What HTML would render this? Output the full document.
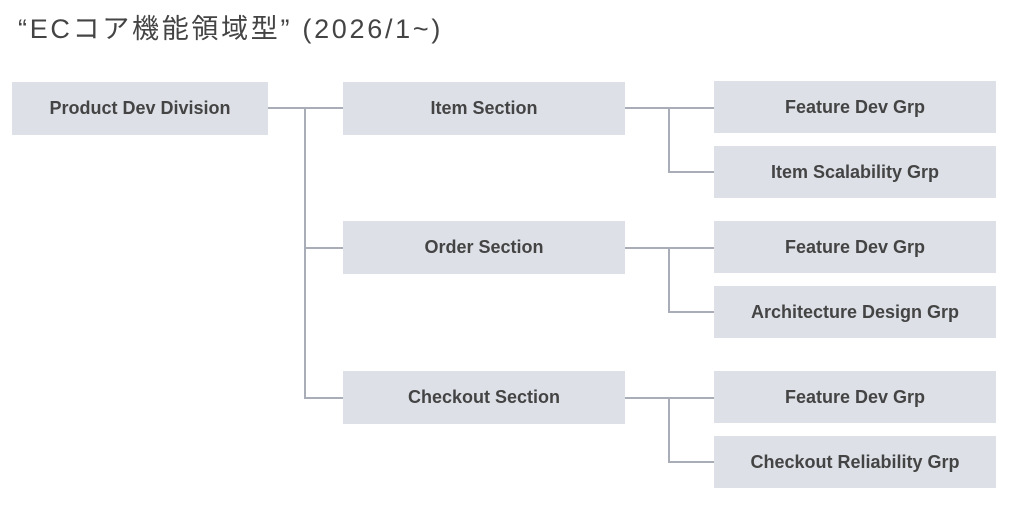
<!DOCTYPE html>
<html><head><meta charset="utf-8"><style>
body{margin:0;width:1016px;height:510px;background:#fff;position:relative;overflow:hidden;font-family:"Liberation Sans","Noto Sans CJK JP",sans-serif}
.t{position:absolute;left:18px;top:7px;font-size:27px;color:#444;white-space:nowrap;letter-spacing:2.7px}
.b{position:absolute;background:#dde1e7;color:#444;font-weight:bold;font-size:18px;display:flex;align-items:center;justify-content:center}
svg{position:absolute;left:0;top:0}
</style></head><body>
<div class="t">“ECコア機能領域型” (2026/1~)</div>
<svg width="1016" height="510"><g stroke="#a9adb8" stroke-width="2" fill="none">
<path d="M268 108H343M305 108V398H343M305 248H343"/>
<path d="M625 108H714M669 108V172H714"/>
<path d="M625 248H714M669 248V312H714"/>
<path d="M625 398H714M669 398V462H714"/>
</g></svg>
<div class="b" style="left:12px;top:82px;width:256px;height:53px">Product Dev Division</div>
<div class="b" style="left:343px;top:82px;width:282px;height:53px">Item Section</div>
<div class="b" style="left:343px;top:221px;width:282px;height:53px">Order Section</div>
<div class="b" style="left:343px;top:371px;width:282px;height:53px">Checkout Section</div>
<div class="b" style="left:714px;top:81px;width:282px;height:52px">Feature Dev Grp</div>
<div class="b" style="left:714px;top:146px;width:282px;height:52px">Item Scalability Grp</div>
<div class="b" style="left:714px;top:221px;width:282px;height:52px">Feature Dev Grp</div>
<div class="b" style="left:714px;top:286px;width:282px;height:52px">Architecture Design Grp</div>
<div class="b" style="left:714px;top:371px;width:282px;height:52px">Feature Dev Grp</div>
<div class="b" style="left:714px;top:436px;width:282px;height:52px">Checkout Reliability Grp</div>
</body></html>
